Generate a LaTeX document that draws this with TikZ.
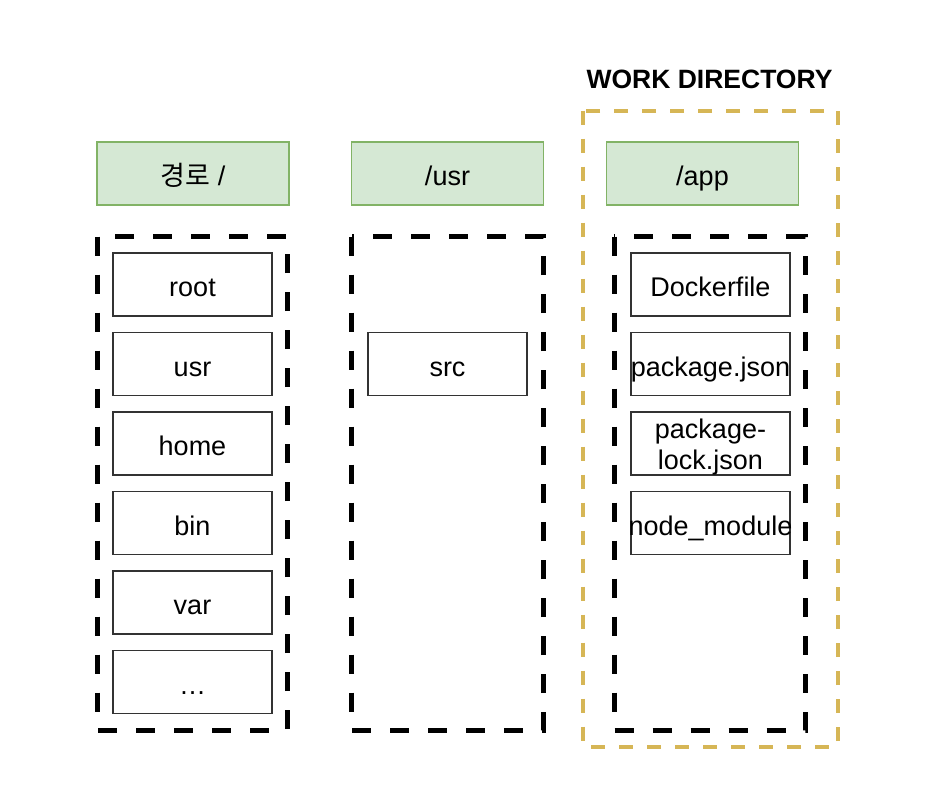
\documentclass[tikz,border=0pt]{standalone}
\usepackage{fontspec}
\setmainfont{Liberation Sans}
\newfontfamily\cjk{Noto Sans CJK KR}
\begin{document}
\begin{tikzpicture}[x=1pt,y=-1pt,
  txt/.style={font=\fontsize{27}{31}\selectfont},
  oneline/.style={text height=24pt, text depth=0pt},
  header/.style={txt, oneline, draw=hdrline, fill=hdrfill, line width=1.5pt,
    minimum width=192pt, minimum height=63pt, inner sep=0pt},
  entrybox/.style={txt, draw=black!80, line width=1.6pt,
    minimum width=159pt, minimum height=63pt, inner sep=0pt},
  entry/.style={entrybox, oneline},
  group/.style={draw=black, line width=5pt, dash pattern=on 19pt off 19pt},
  workdir/.style={draw=wdline, line width=4pt, dash pattern=on 14pt off 14pt}]
\definecolor{hdrfill}{HTML}{D5E8D4}
\definecolor{hdrline}{HTML}{82B366}
\definecolor{wdline}{HTML}{D6B656}
\useasboundingbox (0,0) rectangle (938,804);

% work directory frame and title
\draw[workdir] (583,110.5) rectangle (837.5,746.5);
\node[font=\bfseries\fontsize{26.5}{30}\selectfont, text height=19.3pt, text depth=0pt,
  inner sep=0pt] (wdtitle) at (709.5,79) {WORK DIRECTORY};

% column headers
\node[header] (hroot) at (193,173.5) {{\cjk 경로} /};
\node[header] (husr) at (447.5,173.5) {/usr};
\node[header] (happ) at (702.5,173.5) {/app};

% dashed groups
\draw[group] (97.5,236.5) rectangle (287,730);
\draw[group] (351.5,236.5) rectangle (543,730);
\draw[group] (614,236.5) rectangle (805,730);

% root directory entries
\node[entry] (root) at (192.5,284.5) {root};
\node[entry] (usr)  at (192.5,364)   {usr};
\node[entry] (home) at (192.5,443.5) {home};
\node[entry] (bin)  at (192.5,523)   {bin};
\node[entry] (var)  at (192.5,602.5) {var};
\node[entry] (more) at (192.5,682)   {…};

% /usr entries
\node[entry] (src) at (447.5,364) {src};

% /app entries
\node[entry] (dockerfile) at (710.5,284.5) {Dockerfile};
\node[entry] (pkg)  at (710.5,364)   {\makebox[0pt][c]{package.json}};
\node[entrybox, label={[txt, align=center, inner sep=0pt, yshift=-3.5pt]center:package-\\lock.json}]
  (lock) at (710.5,443.5) {};
\node[entry] (mods) at (710.5,523)   {\makebox[0pt][c]{node\_module}};
\end{tikzpicture}
\end{document}
